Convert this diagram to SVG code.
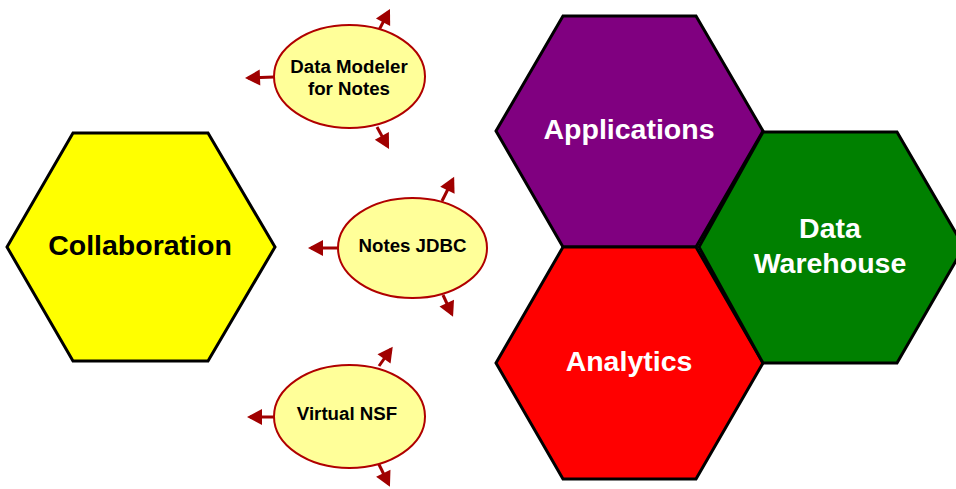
<svg xmlns="http://www.w3.org/2000/svg" width="956" height="489" viewBox="0 0 956 489">
<style>
.hex{stroke:#000;stroke-width:3;stroke-linejoin:miter}
.big{font-family:"Liberation Sans",Arial,sans-serif;font-weight:bold;font-size:28.5px;text-anchor:middle}
.ell{fill:#ffff99;stroke:#b00000;stroke-width:2}
.sm{font-family:"Liberation Sans",Arial,sans-serif;font-weight:bold;font-size:18.7px;text-anchor:middle;fill:#000}
.arr{stroke:#a00000;stroke-width:3;fill:none;marker-end:url(#ah)}
</style>
<defs>
<marker id="ah" markerUnits="userSpaceOnUse" markerWidth="18" markerHeight="18" viewBox="-13 -9 18 18" refX="0" refY="0" orient="auto">
<path d="M3,0 L-12,-8 L-12,8 z" fill="#a00000"/>
</marker>
</defs>
<rect width="956" height="489" fill="#fff"/>
<g id="collaboration">
<polygon class="hex" fill="#ffff00" points="7,247 73,133 208,133 275,247 208,361 73,361"/>
<text class="big" x="140" y="255" fill="#000">Collaboration</text>
</g>
<g id="applications">
<polygon class="hex" fill="#800080" points="496,131 563,16 696,16 763,131 696,247 563,247"/>
<text class="big" x="629" y="139" fill="#fff">Applications</text>
</g>
<g id="analytics">
<polygon class="hex" fill="#ff0000" points="496,363 563,247 696,247 763,363 696,479 563,479"/>
<text class="big" x="629" y="371" fill="#fff">Analytics</text>
</g>
<g id="datawarehouse">
<polygon class="hex" fill="#008000" points="699,247 763,132 897,132 964,247 897,363 763,363"/>
<text class="big" x="830" y="238" fill="#fff">Data</text>
<text class="big" x="830" y="273" fill="#fff">Warehouse</text>
</g>
<g id="connectors">
<line class="arr" x1="274" y1="77" x2="248" y2="78"/>
<line class="arr" x1="378" y1="32" x2="388.6" y2="11.6"/>
<line class="arr" x1="377" y1="127" x2="387.6" y2="146.4"/>
<line class="arr" x1="338" y1="248" x2="311" y2="248"/>
<line class="arr" x1="442" y1="201" x2="452.8" y2="179.5"/>
<line class="arr" x1="443" y1="295" x2="451.8" y2="314"/>
<line class="arr" x1="274" y1="417" x2="250" y2="417"/>
<line class="arr" x1="379" y1="366" x2="391" y2="349.2"/>
<line class="arr" x1="378" y1="462.5" x2="388.6" y2="484"/>
</g>
<g id="datamodeler">
<ellipse class="ell" cx="349.5" cy="76.5" rx="75.5" ry="51.5"/>
<text class="sm" x="349" y="73">Data Modeler</text>
<text class="sm" x="349" y="95">for Notes</text>
</g>
<g id="notesjdbc">
<ellipse class="ell" cx="412.5" cy="248" rx="74.5" ry="50"/>
<text class="sm" x="412.5" y="252">Notes JDBC</text>
</g>
<g id="virtualnsf">
<ellipse class="ell" cx="349.5" cy="416.5" rx="75.5" ry="51.5"/>
<text class="sm" x="347" y="420">Virtual NSF</text>
</g>
</svg>
